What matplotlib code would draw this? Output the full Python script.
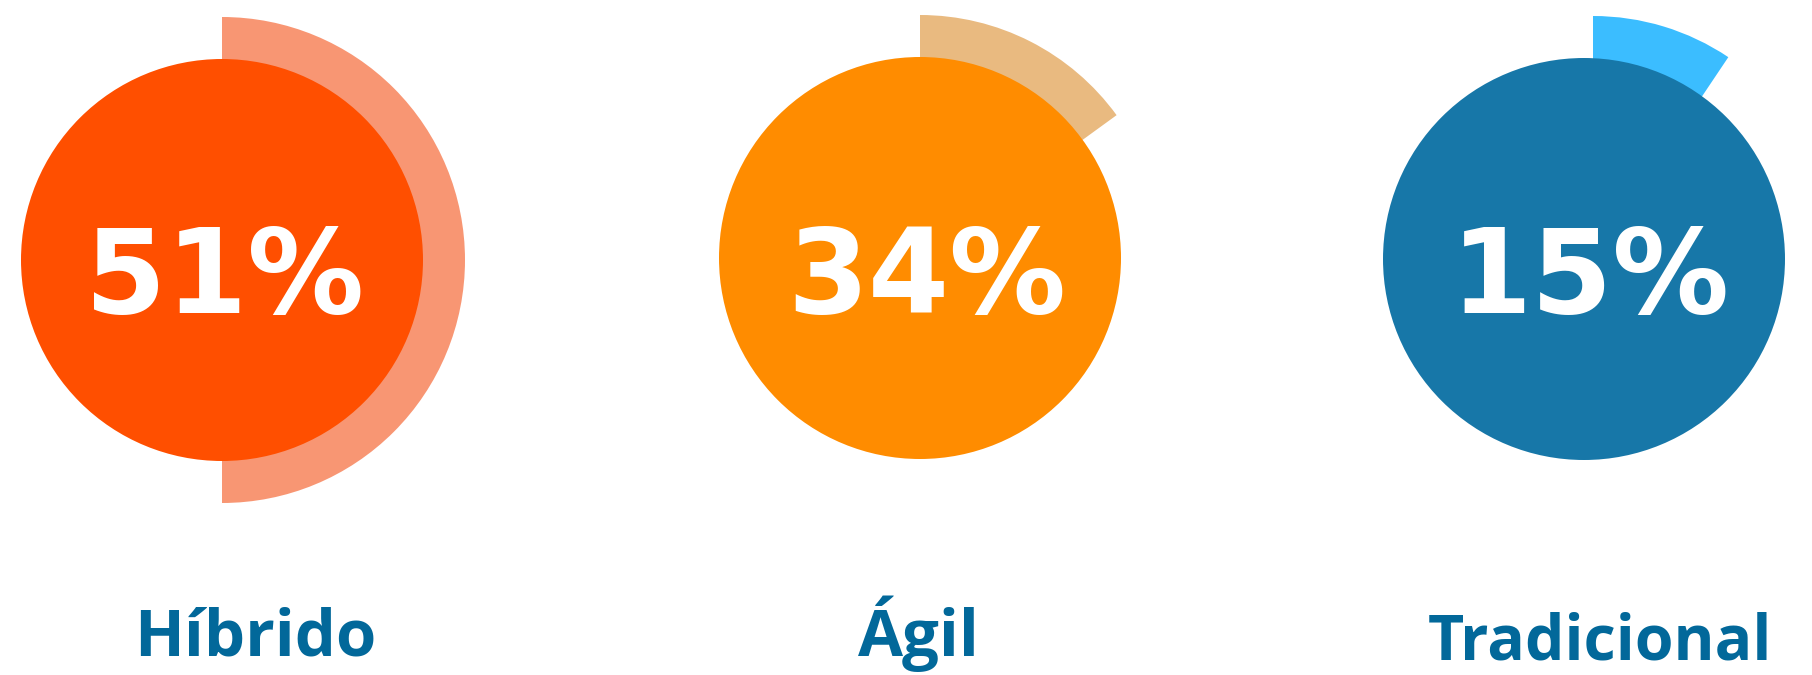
import matplotlib.pyplot as plt
from matplotlib.patches import Circle

# data
categories = ['Híbrido', 'Ágil', 'Tradicional']
values = [51, 34, 15]
# sweep of the light outer ring, as share of a full turn
arc_share = [0.50, 0.15, 0.094]

circle_colors = ['#FF4F00', '#FF8C00', '#1777A8']
arc_colors = ['#F89673', '#E9BA80', '#3BBDFF']
label_color = '#02689A'

W, H = 1812, 675
fig = plt.figure(figsize=(W / 100, H / 100), dpi=100)
ax = fig.add_axes([0, 0, 1, 1])

# layout in pixels (y measured from the top)
centers = [(222, 260), (920, 258), (1584, 259)]
arc_dx = [0, 0, 9]
r_circle = 201
r_arc = 243
label_x = [255, 919, 1600]
label_y = [656, 656, 659]
label_size = [47, 47, 45]
value_x = [225, 927, 1590]

for i, cat in enumerate(categories):
    cx, cy = centers[i]
    y = H - cy
    ax.pie([arc_share[i], 1 - arc_share[i]], colors=[arc_colors[i], 'none'],
           startangle=90, counterclock=False, radius=r_arc,
           center=(cx + arc_dx[i], y),
           wedgeprops=dict(width=80, linewidth=0))
    ax.add_patch(Circle((cx, y), r_circle, color=circle_colors[i], lw=0, zorder=3))
    ax.text(value_x[i], H - 313, '%d%%' % values[i], color='white', ha='center',
            va='baseline', fontsize=84, fontweight='bold',
            family='DejaVu Sans', zorder=4)
    ax.text(label_x[i], H - label_y[i], cat, color=label_color, ha='center',
            va='baseline', fontsize=label_size[i], fontweight='bold', family='Open Sans')

ax.set_xlim(0, W)
ax.set_ylim(0, H)
ax.set_aspect('auto')
ax.axis('off')

plt.savefig('out.png', dpi=100)
